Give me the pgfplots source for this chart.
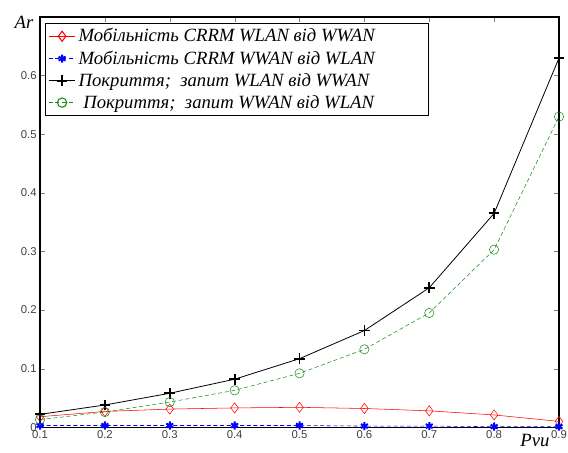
\documentclass[border=0pt]{standalone}
\usepackage{pgfplots}
\pgfplotsset{compat=1.18}
\usepackage{fontspec}
\setmainfont{Liberation Serif}
\newfontfamily\ticksf{Liberation Sans}
\definecolor{mgreen}{rgb}{0.1,0.55,0.1}
\begin{document}
\begin{tikzpicture}
\begin{axis}[name=ax, scale only axis, width=389pt, height=307.5pt,
  xmin=0.1, xmax=0.9, ymin=0, ymax=0.7,
  xtick={0.1,0.2,...,0.9}, ytick={0,0.1,...,0.6},
  xticklabels={0.1,0.2,0.3,0.4,0.5,0.6,0.7,0.8,0.9},
  yticklabels={0,0.1,0.2,0.3,0.4,0.5,0.6},
  tick align=inside, major tick length=4pt,
  tick label style={font=\ticksf\fontsize{8.5}{10}\selectfont, text=black!75},
  xticklabel style={yshift=1pt},
  yticklabel style={xshift=1pt},
  axis line style={line width=0.8pt},
  legend image code/.code={\draw[mark repeat=2, mark phase=2] plot coordinates {(0pt,0pt) (10pt,0pt) (20pt,0pt)};},
  legend style={font=\itshape\fontsize{14}{18}\selectfont, at={(0.0096,0.986)}, anchor=north west,
    draw=black, line width=0.8pt, row sep=1.2pt, inner sep=2pt},
  legend cell align=left]
\addplot[red, mark=diamond, mark size=3.8pt, mark options={solid}] coordinates {
(0.1,0.018) (0.2,0.027) (0.3,0.031) (0.4,0.033) (0.5,0.034) (0.6,0.032) (0.7,0.028) (0.8,0.021) (0.9,0.010)};
\addplot[blue, densely dashed, mark=asterisk, mark size=3pt, mark options={solid, line width=1.5pt}] coordinates {
(0.1,0.003) (0.2,0.003) (0.3,0.003) (0.4,0.003) (0.5,0.003) (0.6,0.002) (0.7,0.002) (0.8,0.001) (0.9,0.001)};
\addplot[black, semithick, mark=+, mark size=4pt, mark options={solid, line width=1.3pt}] coordinates {
(0.1,0.022) (0.2,0.038) (0.3,0.058) (0.4,0.082) (0.5,0.117) (0.6,0.165) (0.7,0.238) (0.8,0.365) (0.9,0.630)};
\addplot[mgreen, densely dashed, mark=o, mark size=3.5pt, mark options={solid}] coordinates {
(0.1,0.013) (0.2,0.026) (0.3,0.043) (0.4,0.063) (0.5,0.092) (0.6,0.133) (0.7,0.195) (0.8,0.303) (0.9,0.530)};
\legend{Мобільність CRRM WLAN від WWAN\hspace*{36pt}, Мобільність CRRM WWAN від WLAN, Покриття;\ \ запит WLAN від WWAN, \ Покриття;\ \ запит WWAN від WLAN}
\end{axis}
\node[font=\itshape\fontsize{14}{16}\selectfont] at ([xshift=-12pt, yshift=-3.75pt]ax.north west) {Ar};
\node[font=\itshape\fontsize{14}{16}\selectfont] at ([xshift=-18pt, yshift=-10pt]ax.south east) {Pvu};
\pgfresetboundingbox
\path ([xshift=-30pt, yshift=-18.75pt]ax.south west) rectangle ([xshift=6.75pt, yshift=12.75pt]ax.north east);
\end{tikzpicture}
\end{document}
